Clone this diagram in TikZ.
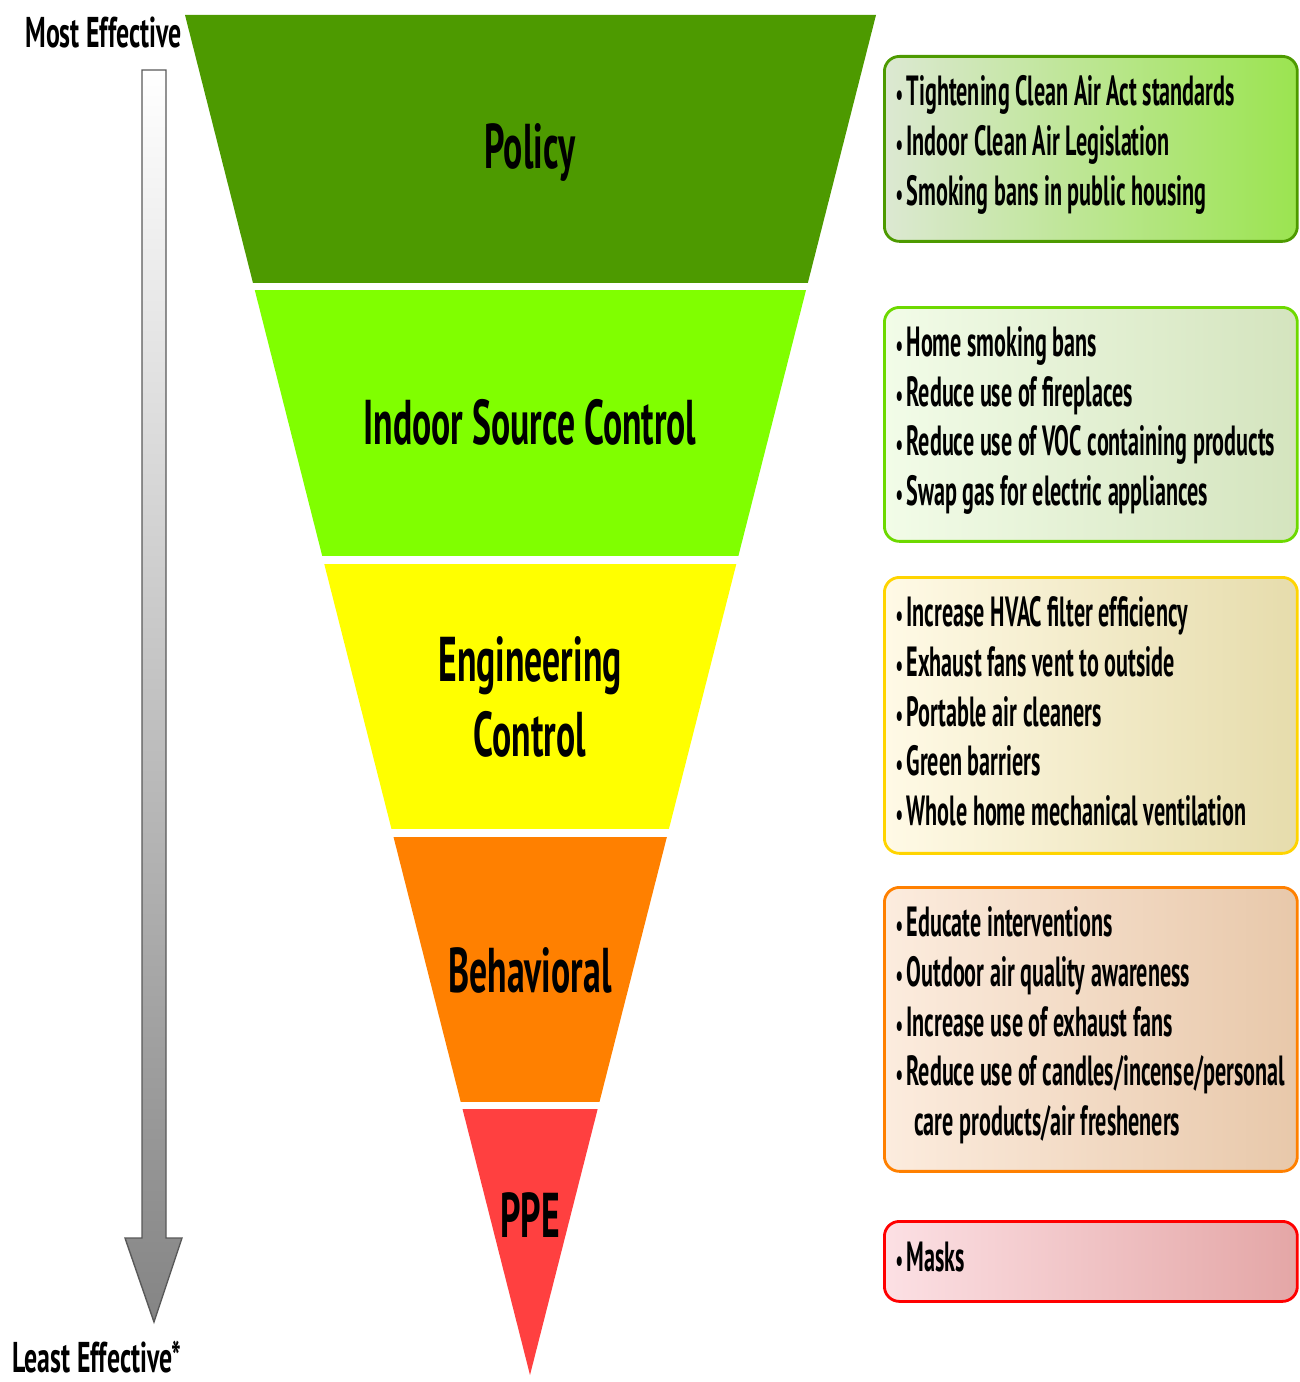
\documentclass[tikz,border=0pt]{standalone}
\usepackage{fontspec}
\setmainfont{PT Sans}[FakeStretch=0.6]
\newfontfamily\bandfont{PT Sans}[FakeStretch=0.565]
\newfontfamily\tipfont{PT Sans}[FakeStretch=0.525]
\usetikzlibrary{positioning}
\definecolor{policyc}{RGB}{77,154,0}
\definecolor{indoorc}{RGB}{128,255,0}
\definecolor{engc}{RGB}{255,255,0}
\definecolor{behavc}{RGB}{255,128,0}
\definecolor{ppec}{RGB}{255,64,64}
\newcommand\bul{\kern-1pt{\fontsize{18}{20}\selectfont•}\kern2pt}
\tikzset{
  band/.style={font=\fontsize{36}{42.5}\selectfont\bandfont\bfseries, align=center},
  effect/.style={font=\fontsize{24.5}{28}\selectfont\bfseries, inner sep=0pt},
  tipbox/.style={rounded corners=0.3cm, line width=1.6pt, minimum width=8.26cm, anchor=north west},
  tips/.style={font=\fontsize{24}{28.35}\selectfont\tipfont\bfseries, align=left, anchor=west, inner sep=0pt}
}
\begin{document}
\begin{tikzpicture}[x=0.02cm, y=-0.02cm]
  \useasboundingbox (0,0) rectangle (1299,1382);
  % effectiveness arrow
  \node[effect, anchor=east] (most) at (182,33) {Most Effective};
  \node[effect, anchor=east] (least) at (182,1357) {Least Effective*};
  \draw[draw=black!65, line width=0.8pt, top color=white, bottom color=black!48]
    (142,70) -- (166,70) -- (166,1238) -- (182,1238) -- (154,1322)
    -- (125,1238) -- (142,1238) -- cycle;
  % inverted pyramid
  \begin{scope}
    \clip (185,15) -- (876,15) -- (530,1375) -- cycle;
    \fill[policyc] (0,0) rectangle (1299,283);
    \fill[indoorc] (0,290) rectangle (1299,556);
    \fill[engc] (0,564) rectangle (1299,829);
    \fill[behavc] (0,837) rectangle (1299,1102);
    \fill[ppec] (0,1109) rectangle (1299,1382);
  \end{scope}
  \node[band] (policy) at (530,152) {Policy};
  \node[band] (indoor) at (530,422) {Indoor Source Control};
  \node[band] (eng) at (530,697) {Engineering\\Control};
  \node[band] (behav) at (530,970) {Behavioral};
  \node[band] (ppe) at (530,1215) {PPE};
  % boxes
  \node[tipbox, draw=policyc, left color={rgb,255:red,220;green,232;blue,210}, right color={rgb,255:red,155;green,228;blue,80}] (policy box) at (883,55) [minimum height=3.7cm] {};
  \node[tipbox, draw=indoorc!85!black, left color={rgb,255:red,242;green,252;blue,232}, right color={rgb,255:red,212;green,228;blue,190}] (indoor box) at (883,306) [minimum height=4.68cm] {};
  \node[tipbox, draw={rgb,255:red,255;green,212;blue,0}, left color={rgb,255:red,255;green,250;blue,230}, right color={rgb,255:red,230;green,220;blue,172}] (eng box) at (883,576) [minimum height=5.52cm] {};
  \node[tipbox, draw=behavc, left color={rgb,255:red,252;green,236;blue,222}, right color={rgb,255:red,232;green,200;blue,170}] (behav box) at (883,886) [minimum height=5.68cm] {};
  \node[tipbox, draw=red, left color={rgb,255:red,252;green,224;blue,228}, right color={rgb,255:red,228;green,166;blue,166}] (ppe box) at (883,1220) [minimum height=1.6cm] {};
  \node[tips] (policy tips) at ([xshift=0.28cm, yshift=0.08cm]policy box.west)
    {\bul Tightening Clean Air Act standards\\\bul Indoor Clean Air Legislation\\\bul Smoking bans in public housing};
  \node[tips] (indoor tips) at ([xshift=0.28cm, yshift=0.08cm]indoor box.west)
    {\bul Home smoking bans\\\bul Reduce use of fireplaces\\\bul Reduce use of VOC containing products\\\bul Swap gas for electric appliances};
  \node[tips] (eng tips) at ([xshift=0.28cm, yshift=0.08cm]eng box.west)
    {\bul Increase HVAC filter efficiency\\\bul Exhaust fans vent to outside\\\bul Portable air cleaners\\\bul Green barriers\\\bul Whole home mechanical ventilation};
  \node[tips] (behav tips) at ([xshift=0.28cm, yshift=0.08cm]behav box.west)
    {\bul Educate interventions\\\bul Outdoor air quality awareness\\\bul Increase use of exhaust fans\\\bul Reduce use of candles/incense/personal\\\hspace{0.34cm}care products/air fresheners};
  \node[tips] (ppe tips) at ([xshift=0.28cm, yshift=0.08cm]ppe box.west) {\bul Masks};
\end{tikzpicture}
\end{document}
